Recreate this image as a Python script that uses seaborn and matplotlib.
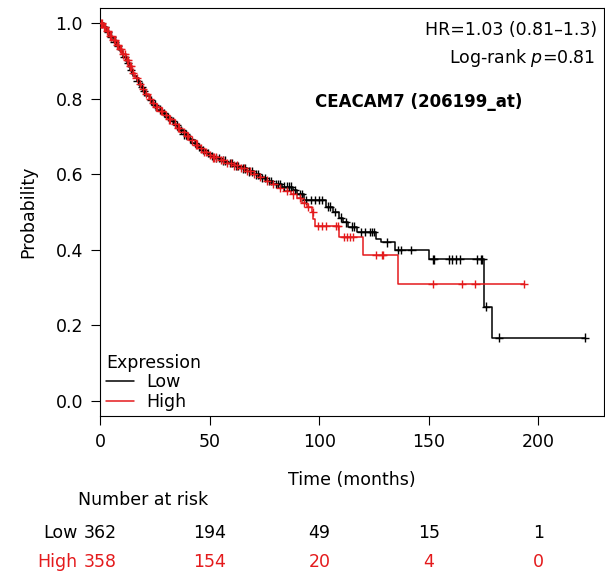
import matplotlib
matplotlib.use("Agg")
import matplotlib.pyplot as plt
import matplotlib.transforms as mtransforms
import numpy as np
import pandas as pd
import seaborn as sns

# Kaplan-Meier steps (time in months, survival probability)
low_time = [0, 1.5, 3, 4.5, 6, 7.5, 9, 10.5, 12, 13.5, 15, 16.5, 18, 19.5, 21, 22.5, 24, 26, 28, 30,
            32, 34, 36, 38, 40, 42, 44, 46, 48, 50, 52, 55, 58, 61, 64, 67, 70, 73, 76, 79,
            83, 88, 90, 93, 103, 106, 109, 111, 113, 117, 126, 128, 134.5, 150, 175.1, 179]
low_surv = [1.0, 0.99, 0.978, 0.965, 0.952, 0.94, 0.928, 0.912, 0.895, 0.878, 0.862, 0.848, 0.833, 0.82,
            0.808, 0.796, 0.785, 0.772, 0.762, 0.752, 0.742, 0.73, 0.718, 0.706, 0.694, 0.683, 0.673,
            0.664, 0.656, 0.649, 0.643, 0.637, 0.63, 0.623, 0.616, 0.608, 0.6, 0.591, 0.583, 0.575,
            0.568, 0.558, 0.548, 0.532, 0.515, 0.5, 0.486, 0.473, 0.462, 0.447, 0.43, 0.42, 0.4,
            0.375, 0.25, 0.168]
low_end = 221.2

high_time = [0, 1, 2.5, 4, 5.5, 7, 8.5, 10, 11.5, 13, 14.5, 16, 17.5, 19, 20.5, 22, 23.5, 25, 27, 29,
             31, 33, 35, 37, 39, 41, 43, 45, 47, 49, 51, 54, 57, 60, 63, 66, 69, 72, 75, 78,
             81, 84, 87, 90, 92, 94.5, 96.5, 97.3, 98, 108.8, 120, 136]
high_surv = [1.0, 0.99, 0.98, 0.968, 0.956, 0.944, 0.932, 0.918, 0.902, 0.886, 0.87, 0.855, 0.84, 0.826,
             0.813, 0.801, 0.79, 0.779, 0.768, 0.757, 0.746, 0.735, 0.724, 0.713, 0.702, 0.69, 0.679,
             0.669, 0.66, 0.652, 0.645, 0.638, 0.631, 0.624, 0.617, 0.61, 0.602, 0.593, 0.584, 0.575,
             0.565, 0.556, 0.547, 0.538, 0.525, 0.514, 0.5, 0.483, 0.464, 0.434, 0.386, 0.309]
high_end = 193.5

# censored observations (times)
low_censor = [2, 3.5, 5, 6.5, 8, 11, 12.5, 14, 17, 19, 20, 23, 25, 27, 29, 31, 33, 35, 37, 38, 39,
              41, 43, 45, 47, 49, 51, 53, 54, 56, 57, 59, 60, 62, 63, 65, 66, 68, 69, 71, 72, 74, 75,
              77, 78, 80, 81, 82, 84, 85, 86, 87, 89, 91, 92, 94, 96, 98, 100, 101, 104, 105, 107,
              110, 112, 115, 116, 119, 121, 123, 124, 125, 130.7, 136, 137.5, 142, 151.7, 152.3,
              159.3, 160.8, 162.3, 164.2, 171.8, 173.6, 174.5, 176, 182, 221.2]
high_censor = [0.3, 0.8, 1.5, 2, 3, 3.5, 4.5, 5, 6, 6.5, 7.5, 8, 9, 9.5, 10.5, 11, 12, 12.5, 13.5, 14,
               15, 16.5, 18, 19.5, 21, 22.5, 24, 25.5, 26, 27.5, 28, 30, 31.5, 32, 34, 35.5, 36, 38,
               39.5, 40, 42, 43.5, 44, 46, 47.5, 48, 50, 51.5, 52, 53, 55, 56, 58, 59.5, 61, 62.5, 64,
               65.5, 67, 68.5, 70, 73, 76, 79, 82, 85, 88, 91, 93, 95, 97.2, 99.5, 101, 103, 107.8,
               108.5, 111.3, 112.4, 113.8, 115.4, 126, 128.4, 129.1, 151.7, 165, 171.3, 193.5]

risk_times = [0, 50, 100, 150, 200]
risk_low = [362, 194, 49, 15, 1]
risk_high = [358, 154, 20, 4, 0]

groups = ["Low", "High"]
colors = {"Low": "#000000", "High": "#e41a1c"}

sns.set_style("ticks")
plt.rcParams["font.family"] = ["DejaVu Sans"]
plt.rcParams["mathtext.fontset"] = "dejavusans"
plt.rcParams["text.color"] = "black"
plt.rcParams["axes.labelcolor"] = "black"
plt.rcParams["xtick.color"] = "black"
plt.rcParams["ytick.color"] = "black"
fs = 12.5


def step_frame(name, t, s, end):
    return pd.DataFrame({"time": list(t) + [end], "surv": list(s) + [s[-1]], "Expression": name})


def censor_frame(name, t, s, cens):
    idx = np.searchsorted(t, cens, side="right") - 1
    return pd.DataFrame({"time": cens, "surv": np.array(s)[idx], "Expression": name})


curves = pd.concat([step_frame("Low", low_time, low_surv, low_end),
                    step_frame("High", high_time, high_surv, high_end)], ignore_index=True)
marks = pd.concat([censor_frame("Low", low_time, low_surv, low_censor),
                   censor_frame("High", high_time, high_surv, high_censor)], ignore_index=True)

fig = plt.figure(figsize=(6.05, 5.74), dpi=100)
ax = fig.add_axes([0.166, 0.2753, 0.832, 0.7108])

sns.lineplot(data=curves, x="time", y="surv", hue="Expression", hue_order=groups, palette=colors,
             drawstyle="steps-post", estimator=None, linewidth=1.1, ax=ax)
sns.scatterplot(data=marks, x="time", y="surv", hue="Expression", hue_order=groups, palette=colors,
                marker="+", s=36, linewidth=1.0, legend=False, ax=ax, zorder=3)

ax.set_xlim(0, 229.9)
ax.set_ylim(-0.0397, 1.041)
ax.set_xticks(risk_times)
ax.set_yticks([0, 0.2, 0.4, 0.6, 0.8, 1.0])
ax.set_yticklabels(["0.0", "0.2", "0.4", "0.6", "0.8", "1.0"])
ax.tick_params(direction="out", length=6.5, width=0.8, labelsize=fs, pad=6, colors="black")
for sp in ax.spines.values():
    sp.set_visible(True)
    sp.set_linewidth(0.8)
    sp.set_color("black")

ax.set_xlabel("Time (months)", fontsize=fs)
ax.set_ylabel("Probability", fontsize=fs)
ax.xaxis.set_label_coords(0.5, -0.135)
ax.yaxis.set_label_coords(-0.125, 0.5)

ax.text(0.986, 0.946, "HR=1.03 (0.81\u20131.3)", transform=ax.transAxes, ha="right", va="center",
        fontsize=fs, color="black")
ax.text(0.983, 0.877, "Log-rank $p$=0.81", transform=ax.transAxes, ha="right", va="center",
        fontsize=fs, color="black")
ax.text(0.633, 0.770, "CEACAM7 (206199_at)", transform=ax.transAxes, ha="center", va="center",
        fontsize=fs - 0.5, fontweight="bold", color="black")

sns.move_legend(ax, "lower left", bbox_to_anchor=(0.012, 0.012), frameon=False, fontsize=fs,
                title_fontsize=fs, handlelength=1.6, handletextpad=0.7, labelspacing=0.1,
                borderpad=0, borderaxespad=0, alignment="left")
leg = ax.get_legend()
leg.get_title().set_color("black")
for txt in leg.get_texts():
    txt.set_color("black")

# number at risk table
blend = mtransforms.blended_transform_factory(ax.transData, fig.transFigure)
fig.text(0.2364, 0.1289, "Number at risk", ha="center", va="center", fontsize=fs, color="black")
fig.text(0.128, 0.0627, "Low", ha="right", va="baseline", fontsize=fs, color=colors["Low"])
fig.text(0.128, 0.0122, "High", ha="right", va="baseline", fontsize=fs, color=colors["High"])
for t, nl, nh in zip(risk_times, risk_low, risk_high):
    ax.text(t, 0.0627, str(nl), transform=blend, ha="center", va="baseline", fontsize=fs,
            color=colors["Low"], clip_on=False)
    ax.text(t, 0.0122, str(nh), transform=blend, ha="center", va="baseline", fontsize=fs,
            color=colors["High"], clip_on=False)

fig.savefig("out.png", dpi=100)
